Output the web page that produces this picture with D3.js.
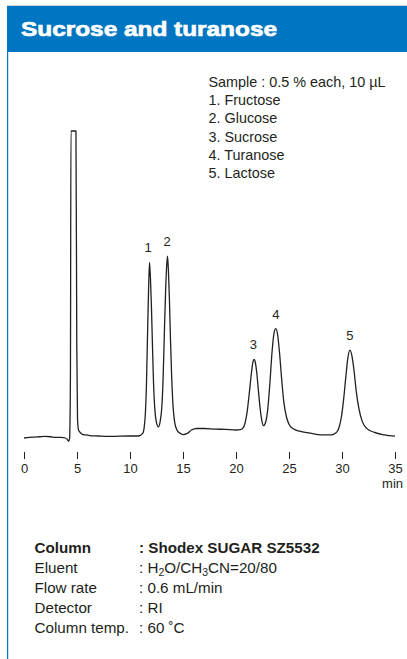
<!DOCTYPE html>
<html><head><meta charset="utf-8">
<script src="https://cdn.jsdelivr.net/npm/d3@7"></script>
<style>
html,body{margin:0;padding:0;background:#fff;}
svg{display:block;font-family:"Liberation Sans",Arial,Helvetica,sans-serif;}
</style></head>
<body><svg id="c" width="407" height="659"></svg>
<script>
// ---- data ----
const titleText = "Sucrose and turanose";
const timeMin = [0,0.5,1,1.5,2,2.5,3,3.5,3.9,4.1,4.2,4.3,4.38,4.43,4.9,4.98,5.05,5.15,5.3,5.5,5.8,6.2,7,8,9,10,10.8,
 11.2,11.35,11.45,11.55,11.65,11.75,11.84,11.93,12.02,12.12,12.22,12.35,12.5,12.68,
 12.85,13.0,13.12,13.24,13.36,13.46,13.54,13.63,13.72,13.82,13.93,14.05,14.2,14.4,14.7,
 15.0,15.4,15.8,16.3,17,18,19,20,20.4,
 20.65,20.85,21.05,21.25,21.45,21.6,21.7,21.8,21.95,22.1,22.25,22.42,22.6,
 22.8,23.0,23.2,23.4,23.58,23.75,23.92,24.1,24.3,24.5,24.75,25.0,25.4,26,27,28,29,29.4,
 29.7,29.95,30.15,30.35,30.55,30.75,30.95,31.15,31.35,31.6,31.9,32.3,33,34,35];
const signal = [0,0.2,0.3,0.4,0.5,0.4,0.2,0.2,0,-0.5,-1.1,-0.2,20,100,100,30,6,2.5,1.8,1.2,1.0,0.8,0.65,0.5,0.6,0.65,0.65,
 1.5,3.8,8,17,33,48,57.2,52,43,30,18,9,5,3.6,
 5.5,10,19,34,48,56,59.2,54,45,32,20,11,5.5,2.8,1.6,
 1.1,1.5,2.6,3.1,3.1,2.9,2.8,2.6,2.7,
 3.2,4.8,8.5,14.5,21,24.8,25.6,25,21.5,16,10.5,6,4,
 5.2,9.5,18,28,34,35.6,33.8,28,19.5,12,7,4.5,3,2.2,1.6,1.0,1.0,1.6,
 3.2,7,12.5,19.5,26,28.6,26.5,21.5,15,9.5,5.5,3.2,1.9,1.0,0.6];
const xTicks = [0,5,10,15,20,25,30,35];
const peakIds = ["1","2","3","4","5"];
const peakTimes = [11.7,13.5,21.65,23.75,30.75];
const peakHeights = [57.2,59.2,25.6,35.6,28.6];
const sampleLines = ["Sample : 0.5 % each, 10 µL","1. Fructose","2. Glucose","3. Sucrose","4. Turanose","5. Lactose"];
const condLabels = ["Column","Eluent","Flow rate","Detector","Column temp."];
const condValues = [
  [{t:": Shodex SUGAR SZ5532"}],
  [{t:": H"},{t:"2",sub:true},{t:"O/CH"},{t:"3",sub:true},{t:"CN=20/80"}],
  [{t:": 0.6 mL/min"}],
  [{t:": RI"}],
  [{t:": 60 ˚C"}]
];

// ---- drawing ----
const svg = d3.select("#c");
const ink = "#231f20";
const blue = "#0075c1";

svg.append("rect").attr("x",7).attr("y",5).attr("width",400).attr("height",1).attr("fill","#cfd3d6");
svg.append("rect").attr("x",7).attr("y",6).attr("width",400).attr("height",46).attr("fill",blue);
svg.append("rect").attr("x",7).attr("y",52).attr("width",1.2).attr("height",607).attr("fill",blue);
svg.append("text").attr("x",21).attr("y",36).attr("fill","#fff")
  .attr("font-size",21).attr("font-weight","bold")
  .attr("stroke","#fff").attr("stroke-width",0.7)
  .attr("textLength",256).attr("lengthAdjust","spacingAndGlyphs")
  .text(titleText);

const x = d3.scaleLinear().domain([0,35]).range([24,395]);
const y = d3.scaleLinear().domain([0,100]).range([438,131]);

const line = d3.line().x((d,i)=>x(timeMin[i])).y((d,i)=>y(signal[i])).curve(d3.curveMonotoneX);
svg.append("path").attr("d",line(signal)).attr("fill","none").attr("stroke",ink)
  .attr("stroke-width",1.3).attr("stroke-linejoin","round");

// axis: ticks only, no domain line
const ax = svg.append("g").attr("transform","translate(0,452)")
  .call(d3.axisBottom(x).tickValues(xTicks).tickSize(7).tickPadding(5).tickFormat(d3.format("d")));
ax.select(".domain").remove();
ax.selectAll(".tick line").attr("stroke",ink).attr("stroke-width",1);
ax.selectAll(".tick text").attr("fill",ink).attr("font-size",13)
  .attr("font-family","Liberation Sans, Arial, sans-serif");
svg.append("text").attr("x",403).attr("y",488).attr("text-anchor","end")
  .attr("font-size",13).attr("fill",ink).text("min");

// peak labels
svg.selectAll("text.pk").data(peakIds).join("text").attr("class","pk")
  .attr("x",(d,i)=>x(peakTimes[i])).attr("y",(d,i)=>y(peakHeights[i])-10)
  .attr("text-anchor","middle").attr("font-size",13).attr("fill",ink).text(d=>d);

// sample legend
svg.selectAll("text.smp").data(sampleLines).join("text").attr("class","smp")
  .attr("x",208.5).attr("y",(d,i)=>86.7+i*18.35)
  .attr("font-size",14.4).attr("fill",ink).text(d=>d);

// conditions
condLabels.forEach((lab,i)=>{
  const yy = 553.3 + i*20;
  const bold = i===0;
  svg.append("text").attr("x",34.5).attr("y",yy).attr("font-size",15.2)
    .attr("font-weight",bold?"bold":"normal").attr("fill",ink).text(lab);
  const t = svg.append("text").attr("x",139).attr("y",yy).attr("font-size",15.2)
    .attr("font-weight",bold?"bold":"normal").attr("fill",ink);
  let prevSub = false;
  condValues[i].forEach(seg=>{
    const ts = t.append("tspan").text(seg.t);
    if(seg.sub){ ts.attr("font-size",10.5).attr("dy",3); }
    else if(prevSub){ ts.attr("dy",-3); }
    prevSub = !!seg.sub;
  });
});
</script></body></html>
